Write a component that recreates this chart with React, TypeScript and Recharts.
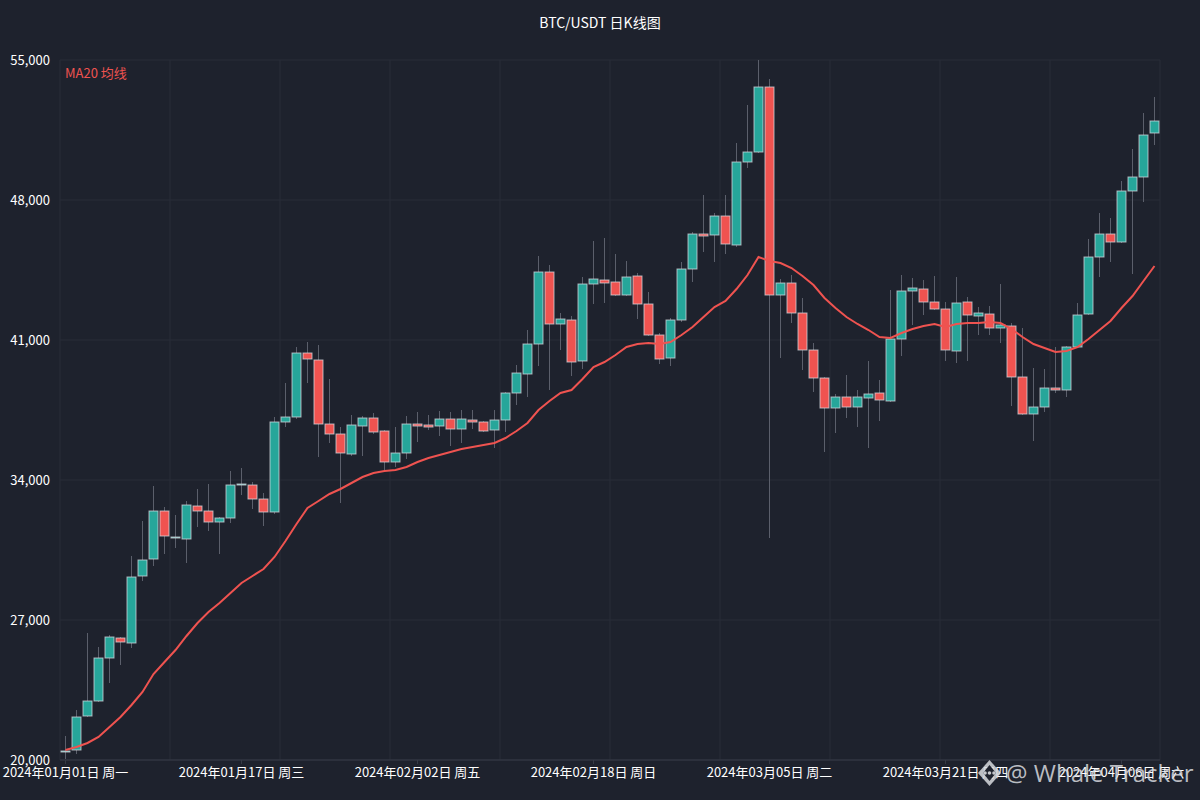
import React from "react";
import { Bar, CartesianGrid, ComposedChart, Line, XAxis, YAxis } from "recharts";

const BG = "#1e222d";
const GRID = "#292d39";
const UP = "#26a69a";
const DOWN = "#ef5350";

const TITLE = "BTC/USDT 日K线图";
const MA_LABEL = "MA20 均线";

const START_DATE = "2024-01-01";
const WEEKDAYS = ["周日", "周一", "周二", "周三", "周四", "周五", "周六"];

const yTicks = [20000, 27000, 34000, 41000, 48000, 55000];

const opens = [
  20400, 20500, 22200, 22950, 25100, 26100, 25850, 29200, 30050, 32450,
  31100, 31050, 32700, 32450, 31900, 32100, 33750, 33750, 33050, 32400,
  36900, 37150, 40350, 40000, 36800, 36300, 35300, 36700, 37100, 36450,
  34900, 35350, 36800, 36750, 36700, 37050, 36550, 37000, 36900, 36500,
  37000, 38350, 39300, 40800, 44400, 41800, 42000, 39950, 43800, 44000,
  43900, 43250, 44200, 42800, 41250, 40100, 42000, 44550, 46300, 46250,
  47200, 45750, 49900, 50400, 53650, 43250, 43850, 42350, 40500, 39100,
  37600, 38150, 37650, 38100, 38350, 37950, 41050, 43450, 43550, 42900,
  42550, 40450, 42900, 42200, 42300, 41600, 41700, 39150, 37300, 37650,
  38600, 38500, 40650, 42300, 45150, 46300, 45900, 48450, 49150, 51350,
];

const closes = [
  20450, 22150, 22950, 25100, 26150, 25900, 29150, 30000, 32450, 31200,
  31150, 32750, 32450, 31900, 32100, 33750, 33800, 33050, 32400, 36900,
  37150, 40350, 40050, 36800, 36300, 35350, 36750, 37100, 36400, 34900,
  35350, 36800, 36700, 36650, 37050, 36550, 37050, 36900, 36450, 37000,
  38350, 39350, 40800, 44400, 41800, 42050, 39900, 43800, 44050, 43850,
  43250, 44150, 42800, 41250, 40050, 42000, 44550, 46300, 46200, 47200,
  45800, 49900, 50400, 53650, 43250, 43850, 42350, 40500, 39100, 37600,
  38150, 37650, 38150, 38300, 38000, 41050, 43450, 43600, 42900, 42550,
  40500, 42850, 42250, 42350, 41600, 41750, 39150, 37300, 37650, 38600,
  38500, 40650, 42250, 45150, 46300, 45900, 48450, 49150, 51250, 51950,
];

const highs = [
  21200, 22500, 26350, 25650, 26250, 26150, 30200, 31950, 33700, 32650,
  32250, 32950, 33550, 33800, 32150, 34450, 34600, 33900, 33350, 37150,
  38850, 40650, 40900, 40750, 39050, 36650, 37250, 37200, 37350, 36500,
  36650, 37200, 37400, 37250, 37450, 37400, 37500, 37500, 36950, 37500,
  38400, 39750, 41500, 45200, 44750, 42350, 42200, 44150, 45950, 46100,
  45300, 44950, 44350, 43400, 41350, 42100, 44900, 46400, 48250, 47350,
  48250, 50850, 52750, 55000, 54050, 44050, 44250, 43100, 40850, 39150,
  38300, 39250, 38500, 39950, 39000, 43500, 44250, 44100, 44000, 44200,
  42900, 44150, 43150, 42650, 42700, 43800, 41850, 41600, 39600, 39550,
  40650, 40700, 42850, 46050, 47350, 47100, 48950, 50550, 52350, 53150,
];

const lows = [
  20050, 20300, 22150, 22900, 23850, 24750, 25600, 28950, 29700, 30300,
  30600, 29850, 31650, 31450, 30300, 31850, 33250, 32550, 31700, 32300,
  36650, 37050, 38850, 35150, 35850, 32850, 35200, 35200, 36300, 34500,
  34650, 35050, 35900, 36500, 36200, 35700, 35850, 36550, 36400, 35600,
  36400, 37750, 38150, 39700, 38500, 40500, 39200, 39550, 42800, 42850,
  43200, 43200, 42050, 41200, 39800, 39700, 41900, 43900, 45400, 44900,
  45300, 45650, 49600, 50350, 31100, 40100, 41850, 39500, 38400, 35400,
  36350, 37100, 36650, 35600, 36950, 37900, 40200, 41750, 42250, 42500,
  39950, 39850, 39950, 41250, 41250, 40850, 37700, 37250, 35950, 37400,
  38350, 38150, 40600, 42250, 44150, 44900, 45850, 44300, 47900, 50750,
];

const ma20 = [
  20500, 20650, 20850, 21150, 21650, 22150, 22750, 23400, 24300, 24900,
  25500, 26200, 26850, 27400, 27850, 28350, 28850, 29200, 29550, 30150,
  30950, 31800, 32600, 32950, 33300, 33550, 33850, 34150, 34350, 34450,
  34500, 34650, 34900, 35100, 35250, 35400, 35550, 35650, 35750, 35850,
  36100, 36450, 36850, 37500, 37950, 38350, 38500, 39050, 39650, 39900,
  40250, 40650, 40800, 40850, 40800, 40900, 41250, 41650, 42150, 42650,
  42950, 43550, 44250, 45150, 44950, 44850, 44600, 44200, 43750, 43100,
  42600, 42150, 41800, 41500, 41150, 41100, 41350, 41550, 41700, 41800,
  41650, 41800, 41850, 41850, 41900, 41850, 41550, 41150, 40800, 40600,
  40400, 40450, 40650, 41050, 41500, 41950, 42600, 43200, 43950, 44700,
];

function dateLabel(i: number) {
  const d = new Date(START_DATE + "T00:00:00Z");
  d.setUTCDate(d.getUTCDate() + i);
  const mm = String(d.getUTCMonth() + 1).padStart(2, "0");
  const dd = String(d.getUTCDate()).padStart(2, "0");
  return `${d.getUTCFullYear()}年${mm}月${dd}日 ${WEEKDAYS[d.getUTCDay()]}`;
}

const data = opens.map((open, i) => ({
  date: dateLabel(i),
  open,
  close: closes[i],
  high: highs[i],
  low: lows[i],
  range: [lows[i], highs[i]],
  ma: ma20[i],
}));

// draws wick + body inside the [low, high] bar rect the library gives us
function Candle(props: any) {
  const { x, y, width, height, payload } = props;
  if (x == null || y == null) return null;
  const top = Math.min(y, y + height);
  const h = Math.abs(height);
  const { open, close, high, low } = payload;
  const k = high === low ? 0 : h / (high - low);
  const py = (v: number) => top + (high - v) * k;
  const bTop = py(Math.max(open, close));
  const bH = Math.max(1, py(Math.min(open, close)) - bTop);
  const cx = x + width / 2;
  return (
    <g>
      <line x1={cx} x2={cx} y1={top} y2={top + h} stroke="#5b5f6b" strokeWidth={1} />
      <rect
        x={x}
        y={bTop}
        width={width}
        height={bH}
        fill={close >= open ? UP : DOWN}
        stroke="rgba(215,218,224,0.75)"
        strokeWidth={1}
      />
    </g>
  );
}

const FONT = '"Noto Sans CJK SC", "Noto Sans", sans-serif';

export default function App() {
  return (
    <div
      style={{
        position: "fixed",
        left: 0,
        top: 0,
        width: 1200,
        height: 800,
        background: BG,
        fontFamily: FONT,
        overflow: "hidden",
      }}
    >
      <div
        style={{
          position: "absolute",
          top: 12,
          width: 1200,
          textAlign: "center",
          color: "#ffffff",
          fontSize: 14,
        }}
      >
        {TITLE}
      </div>
      <div style={{ position: "absolute", left: 65, top: 63, color: DOWN, fontSize: 13 }}>
        {MA_LABEL}
      </div>
      <ComposedChart
        width={1200}
        height={800}
        data={data}
        margin={{ top: 60, right: 40, left: 0, bottom: 0 }}
      >
        <CartesianGrid
          stroke={GRID}
          verticalCoordinatesGenerator={({ offset }: any) =>
            Array.from({ length: 11 }, (_, k) => offset.left + (k * offset.width) / 10)
          }
        />
        <XAxis
          dataKey="date"
          interval={15}
          height={40}
          tickSize={4}
          tickMargin={4}
          stroke="#363a46"
          tick={{ fill: "#ffffff", fontSize: 13, fontFamily: FONT }}
        />
        <YAxis
          domain={[20000, 55000]}
          ticks={yTicks}
          width={60}
          axisLine={false}
          tickLine={false}
          tickSize={8}
          tickMargin={2}
          tickFormatter={(v) => Number(v).toLocaleString("en-US")}
          tick={{ fill: "#ffffff", fontSize: 13, fontFamily: FONT }}
        />
        <Bar dataKey="range" barSize={9} shape={<Candle />} isAnimationActive={false} />
        <Line
          dataKey="ma"
          type="linear"
          stroke={DOWN}
          strokeWidth={2}
          dot={false}
          activeDot={false}
          isAnimationActive={false}
        />
      </ComposedChart>
      <div
        style={{
          position: "absolute",
          left: 977,
          top: 757,
          display: "flex",
          alignItems: "center",
          gap: 4,
          color: "rgba(215,217,222,0.85)",
          fontSize: 24,
          fontFamily: '"Open Sans", "Noto Sans", sans-serif',
          lineHeight: "32px",
        }}
      >
        <svg width={25} height={28} viewBox="0 0 25 28">
          <polygon points="12.5,1 24,14 12.5,27 1,14" fill="rgba(215,217,222,0.85)" />
          <polygon points="12.5,6 19,14 12.5,22 6,14" fill={BG} />
          <circle cx={8} cy={14} r={1.8} fill="rgba(215,217,222,0.9)" />
          <circle cx={12.5} cy={14} r={1.8} fill="rgba(215,217,222,0.9)" />
          <circle cx={17} cy={14} r={1.8} fill="rgba(215,217,222,0.9)" />
        </svg>
        <span>@ Whale Tracker</span>
      </div>
    </div>
  );
}
